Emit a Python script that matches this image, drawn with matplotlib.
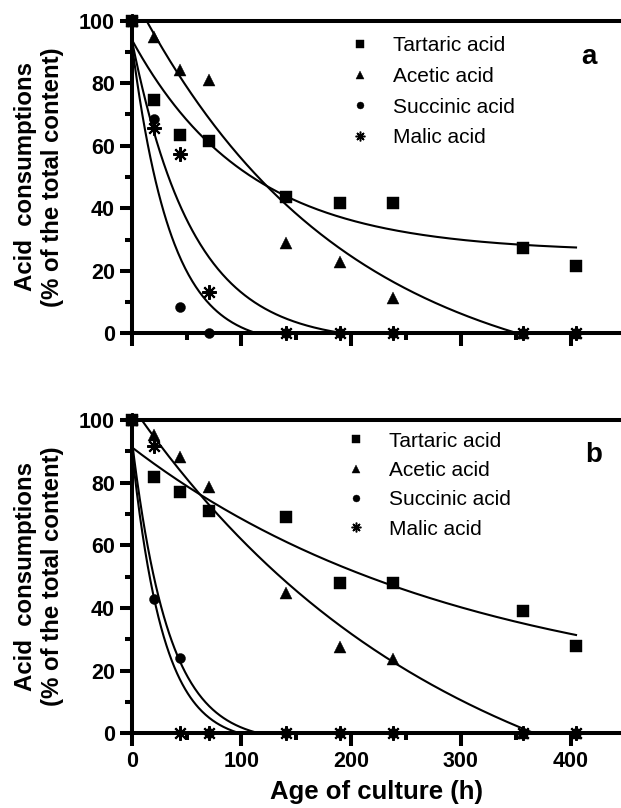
import matplotlib
matplotlib.use("Agg")
import matplotlib.pyplot as plt
import numpy as np
from matplotlib.lines import Line2D

plt.rcParams["font.family"] = ["Liberation Sans", "DejaVu Sans"]

# sampling times (h)
hours = [0, 20, 44, 70, 141, 190, 238, 357, 405]
acids = ["Tartaric acid", "Acetic acid", "Succinic acid", "Malic acid"]

# (a) remaining acid, % of initial content
tartaric_a = [100, 74.6, 63.4, 61.5, 43.7, 41.6, 41.6, 27.4, 21.6]
acetic_a = [100, 94.9, 84.2, 81.0, 29.0, 22.9, 11.2, 0, 0]
succinic_a = [100, 68.6, 8.5, 0, 0, 0, 0, 0, 0]
malic_a = [100, 65.6, 57.3, 13.3, 0, 0, 0, 0, 0]

# (b)
tartaric_b = [100, 81.9, 77.1, 71.0, 68.9, 48.1, 48.1, 39.0, 27.9]
acetic_b = [100, 95.2, 88.3, 78.5, 44.7, 27.6, 23.6, 0, 0]
succinic_b = [100, 42.9, 24.1, 0, 0, 0, 0, 0, 0]
malic_b = [100, 91.7, 0, 0, 0, 0, 0, 0, 0]

# one-phase exponential decay fits: Y = plateau + (start - plateau) * exp(-rate * t)
fit_start_a = [94.0, 108.9, 93.0, 94.0]
fit_plateau_a = [26.0, -20.0, -4.0, -3.0]
fit_rate_a = [0.0095, 0.0053, 0.028, 0.018]

fit_start_b = [91.3, 104.5, 94.0, 91.0]
fit_plateau_b = [10.0, -40.0, -3.0, -3.0]
fit_rate_b = [0.0033, 0.0035, 0.030, 0.035]

MARKERS = ["s", "^", "o", (8, 2, 0)]
MSIZE = [8.0, 8.6, 7.2, 10.5]
LEG_MSIZE = [5.2, 5.8, 5.0, 7.0]
LW = 2.9


def marker_kw(m, ms, star_mew):
    star = not isinstance(m, str)
    return dict(ls="none", marker=m, ms=ms, color="black",
                mew=star_mew if star else 0.3)


def draw_panel(ax, series, starts, plateaus, rates, letter, show_xlabels,
               legend_at, legend_gap, letter_at):
    t = np.linspace(0, max(hours), 500)
    for y0, p, k in zip(starts, plateaus, rates):
        ax.plot(t, p + (y0 - p) * np.exp(-k * t), color="black", lw=1.5, zorder=2)

    for vals, m, ms in zip(series, MARKERS, MSIZE):
        ax.plot(hours, vals, clip_on=False, zorder=4, **marker_kw(m, ms, 1.5))

    ax.set_xlim(0, 446)
    ax.set_ylim(0, 100)
    ax.spines["right"].set_visible(False)
    for side in ("left", "bottom", "top"):
        ax.spines[side].set_linewidth(LW)
    ax.set_xticks([0, 100, 200, 300, 400])
    ax.set_xticks([50, 150, 250, 350], minor=True)
    ax.set_yticks([0, 20, 40, 60, 80, 100])
    ax.set_yticks([10, 30, 50, 70, 90], minor=True)
    ax.tick_params(which="major", direction="out", length=9, width=LW,
                   labelsize=15.5, pad=3, top=False, right=False)
    ax.tick_params(which="minor", direction="out", length=5, width=LW,
                   top=False, right=False)
    ax.tick_params(axis="x", labelbottom=show_xlabels, pad=4)
    for lab in ax.get_xticklabels() + ax.get_yticklabels():
        lab.set_fontweight("bold")

    # legend keys are smaller than the plotted symbols
    handles = [Line2D([], [], label=name, **marker_kw(m, ms, 1.1))
               for name, m, ms in zip(acids, MARKERS, LEG_MSIZE)]
    ax.legend(handles=handles, loc="upper left", bbox_to_anchor=legend_at,
              frameon=False, fontsize=15, handlelength=1.0,
              handletextpad=1.1, labelspacing=legend_gap, borderpad=0,
              borderaxespad=0)
    ax.text(*letter_at, letter, transform=ax.transAxes, fontsize=20,
            fontweight="bold", ha="center", va="center")


fig = plt.figure(figsize=(6.21, 8.08), dpi=100)
ax_a = fig.add_axes([0.2121, 0.5875, 0.7879, 0.3869])
ax_b = fig.add_axes([0.2121, 0.0925, 0.7879, 0.3878])

draw_panel(ax_a, [tartaric_a, acetic_a, succinic_a, malic_a],
           fit_start_a, fit_plateau_a, fit_rate_a, "a", False,
           (0.445, 0.95), 0.56, (0.935, 0.885))
draw_panel(ax_b, [tartaric_b, acetic_b, succinic_b, malic_b],
           fit_start_b, fit_plateau_b, fit_rate_b, "b", True,
           (0.437, 0.963), 0.50, (0.945, 0.888))

ylab = "Acid  consumptions\n(% of the total content)"
for ax in (ax_a, ax_b):
    pos = ax.get_position()
    fig.text(39 / 621, pos.y0 + pos.height / 2, ylab, rotation=90, ha="center",
             va="center", multialignment="center", fontsize=17.3,
             fontweight="bold", linespacing=1.25)

fig.text(376 / 621, 1 - 792 / 808, "Age of culture (h)", ha="center", va="center",
         fontsize=18.5, fontweight="bold")

fig.savefig("out.png", dpi=100)
